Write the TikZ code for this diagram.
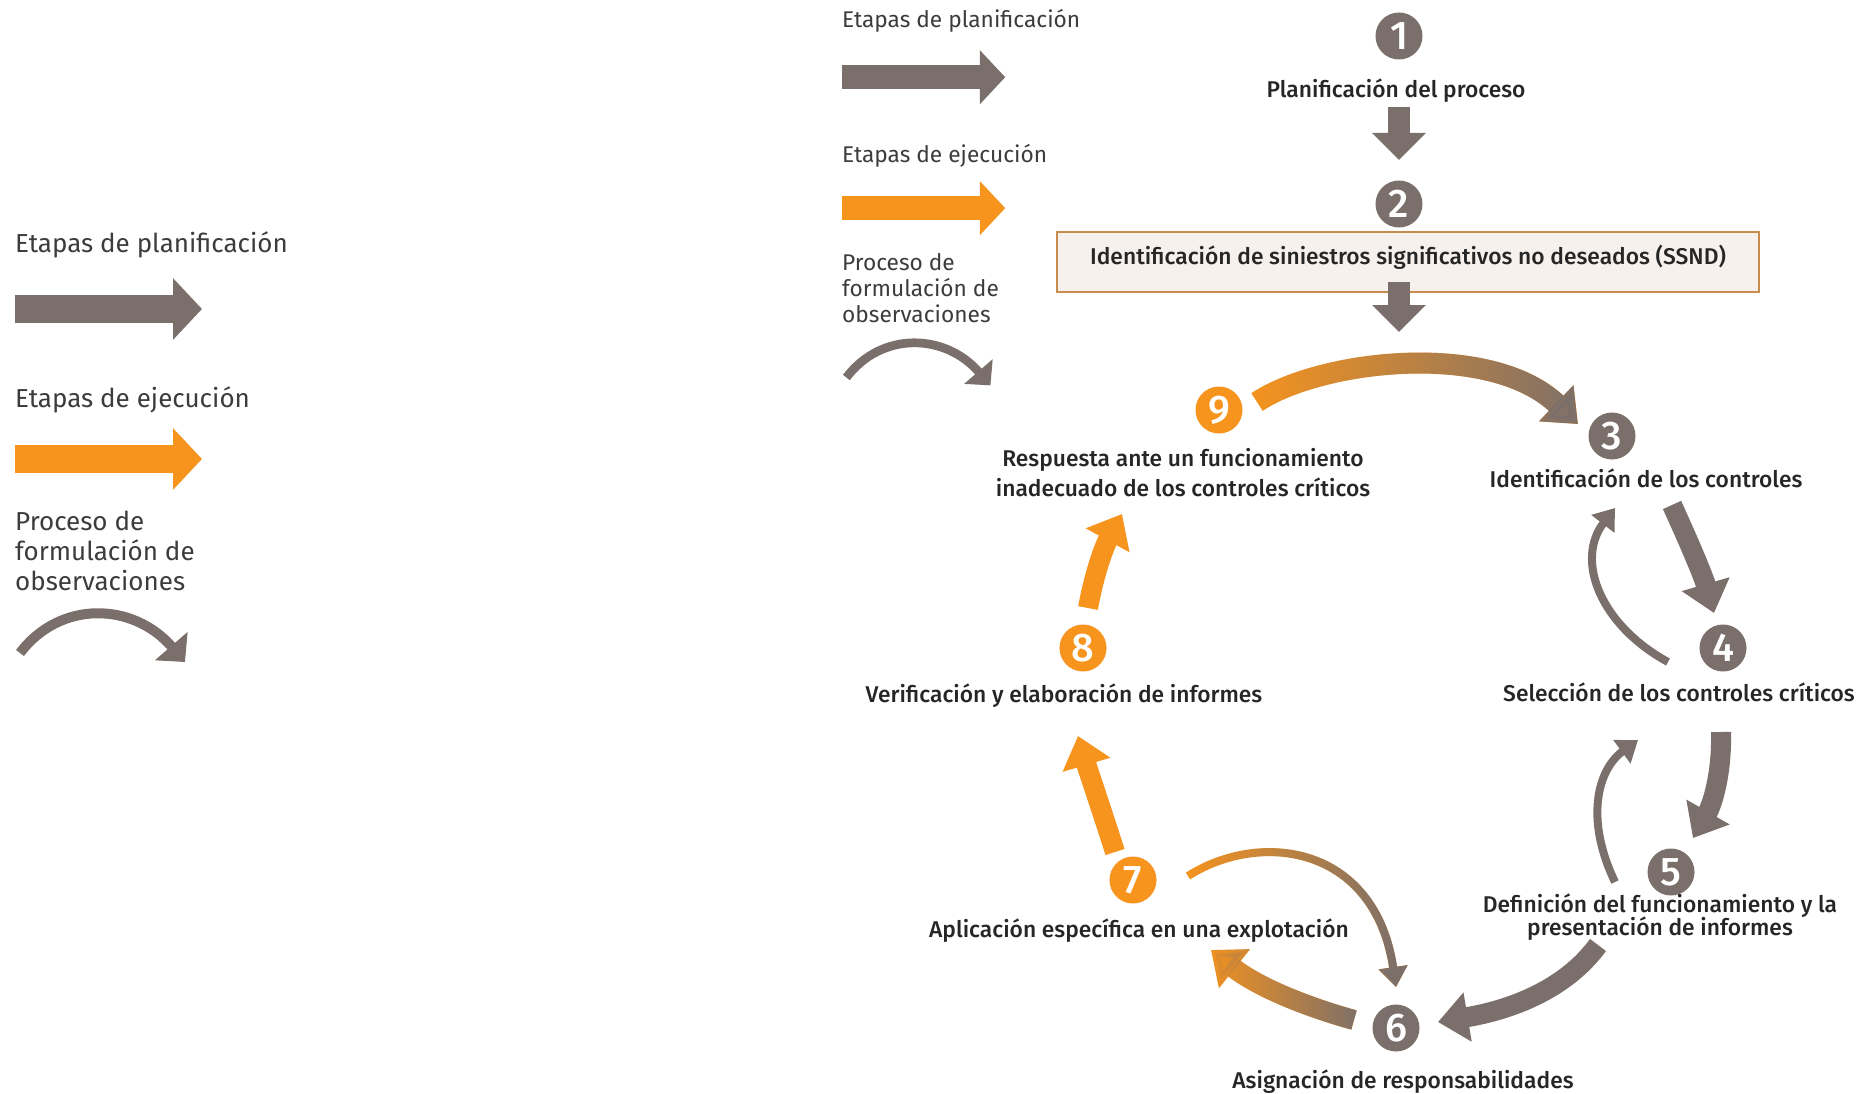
\documentclass[tikz,border=0pt]{standalone}
\usepackage{fontspec}
\setmainfont{Fira Sans}[BoldFont={Fira Sans Medium}]
\usetikzlibrary{arrows.meta,fadings}

\definecolor{stone}{HTML}{7B6F6B}
\definecolor{amber}{HTML}{F7941D}
\definecolor{boxfill}{HTML}{F6F1EC}
\definecolor{boxline}{HTML}{C98B4E}
\definecolor{ink}{HTML}{262626}

\tikzfading[name=fade in right, left color=transparent!100, right color=transparent!0]

\tikzset{
  num/.style={circle, inner sep=0pt, minimum size=47pt, text=white,
    font=\fontsize{40}{40}\selectfont\bfseries},
  gnum/.style={num, fill=stone},
  onum/.style={num, fill=amber},
  lbl/.style={font=\fontsize{22.8}{30}\selectfont\bfseries,
    text=ink, inner sep=0pt, align=center},
  bigarrow/.style={line width=20pt, -{Triangle[width=48pt,length=30pt]}},
  smallarrow/.style={line width=8pt, -{Triangle[width=28pt,length=20pt]}},
  legtext/.style={font=\fontsize{26}{30}\selectfont, text=ink!90, inner sep=0pt},
}

% legend block: #1 name prefix, #2 scale of the line work
% (a multi-line node's base anchor sits on its last line)
\newcommand\keyblock[2]{%
  \node[legtext, anchor=base west] (#1plan) at (0,20) {Etapas de planificación};
  \coordinate (#1pa) at (0,77); \coordinate (#1pb) at (187,77);
  \draw[stone, line width=#2*28pt, -{Triangle[width=60pt,length=29pt,scale=#2]}] (#1pa) -- (#1pb);
  \node[legtext, anchor=base west] (#1exec) at (0,175) {Etapas de ejecución};
  \coordinate (#1ea) at (0,227); \coordinate (#1eb) at (187,227);
  \draw[amber, line width=#2*28pt, -{Triangle[width=60pt,length=29pt,scale=#2]}] (#1ea) -- (#1eb);
  \node[legtext, anchor=base west, align=left] (#1obs) at (0,358) {Proceso de\\formulación de\\observaciones};
  \coordinate (#1oa) at (5,421); \coordinate (#1ob) at (170,430);
  \draw[stone, line width=#2*10pt, -{Triangle[width=42pt,length=21pt,scale=#2]}]
    (#1oa) .. controls +(40,-53) and +(-52,-60) .. (#1ob);
}

\begin{document}
% keep the baseline distance of stacked lines even when they sit close
\lineskiplimit=-50pt
\begin{tikzpicture}[x=1pt,y=-1pt]
\fill[white] (0,0) rectangle (1862,1094);
\useasboundingbox (0,0) rectangle (1862,1094);

% legends
\begin{scope}[shift={(15,232)}]
  \keyblock{L}{1}
\end{scope}
\begin{scope}[shift={(842,10)}, scale=0.873, transform shape]
  \keyblock{R}{0.873}
\end{scope}

% planning stages
\node[gnum] (c1) at (1399,36) {1};
\node[lbl, anchor=base] (l1) at (1396,98) {Planificación del proceso};
\node[gnum] (c2) at (1399,204) {2};
\coordinate (a12s) at (1399,107); \coordinate (a12e) at (1399,160);
\draw[stone, line width=22pt, -{Triangle[width=52pt,length=27pt]}] (a12s) -- (a12e);

\node[draw=boxline, fill=boxfill, line width=2.5pt, minimum width=702pt, minimum height=60pt,
      inner sep=0pt, text height=15pt, text depth=10pt,
      font=\fontsize{22.8}{30}\selectfont\bfseries, text=ink] (box) at (1408,262)
      {Identificación de siniestros significativos no deseados (SSND)};
\coordinate (a2s) at (1399,282); \coordinate (a2e) at (1399,332);
\draw[stone, line width=22pt, -{Triangle[width=52pt,length=27pt]}] (a2s) -- (a2e);

% cycle stages
\node[gnum] (c3) at (1612,436) {3};
\node[gnum] (c4) at (1723,648) {4};
\node[gnum] (c5) at (1671,872) {5};
\node[gnum] (c6) at (1396,1028) {6};
\node[onum] (c7) at (1133,880) {7};
\node[onum] (c8) at (1083,648) {8};
\node[onum] (c9) at (1219,410) {9};

\node[lbl, anchor=base] (l3) at (1646,487) {Identificación de los controles};
\node[lbl, anchor=base] (l4) at (1679,701) {Selección de los controles críticos};
\node[lbl, anchor=base, font=\fontsize{22.8}{22.5}\selectfont\bfseries] (l5) at (1660,935)
  {Definición del funcionamiento y la\\presentación de informes};
\node[lbl, anchor=base] (l6) at (1403,1088) {Asignación de responsabilidades};
\node[lbl, anchor=base] (l7) at (1139,937) {Aplicación específica en una explotación};
\node[lbl, anchor=base] (l8) at (1064,702) {Verificación y elaboración de informes};
\node[lbl, anchor=base] (l9) at (1183,496)
  {Respuesta ante un funcionamiento\\inadecuado de los controles críticos};

% connector end points
\coordinate (a93s) at (1257,402); \coordinate (a93e) at (1578,424);
\coordinate (a34s) at (1672,505); \coordinate (a34e) at (1714,613);
\coordinate (a43s) at (1668,662); \coordinate (a43e) at (1615,508);
\coordinate (a45s) at (1721,732); \coordinate (a45e) at (1693,838);
\coordinate (a54s) at (1615,882); \coordinate (a54e) at (1638,740);
\coordinate (a56s) at (1598,945); \coordinate (a56e) at (1438,1022);
\coordinate (a67s) at (1354,1020); \coordinate (a67e) at (1211,950);
\coordinate (a76s) at (1188,876); \coordinate (a76e) at (1396,987);
\coordinate (a78s) at (1115,852); \coordinate (a78e) at (1078,736);
\coordinate (a89s) at (1088,608); \coordinate (a89e) at (1122,514);

% 9 -> 3, orange fading into grey
\draw[amber, bigarrow, line width=21pt] (a93s) .. controls +(63,-42) and +(-88,-84) .. (a93e);
\draw[stone, bigarrow, line width=21pt, path fading=fade in right, fit fading=true]
  (a93s) .. controls +(63,-42) and +(-88,-84) .. (a93e);

% controls loop
\draw[stone, bigarrow] (a34s) .. controls +(16,35) and +(-11,-38) .. (a34e);
\draw[stone, smallarrow] (a43s) .. controls +(-68,-37) and +(-40,52) .. (a43e);
\draw[stone, bigarrow] (a45s) .. controls +(1,43) and +(19,-33) .. (a45e);
\draw[stone, smallarrow] (a54s) .. controls +(-30,-62) and +(-41,30) .. (a54e);
\draw[stone, bigarrow] (a56s) .. controls +(-33,45) and +(72,-12) .. (a56e);

% 6 -> 7, grey turning orange
\draw[amber, bigarrow] (a67s) .. controls +(-54,-15) and +(44,35) .. (a67e);
\draw[stone, bigarrow, path fading=fade in right, fit fading=true]
  (a67s) .. controls +(-54,-15) and +(44,35) .. (a67e);

% 7 -> 6, orange turning grey
\draw[amber, smallarrow] (a76s) .. controls +(72,-46) and +(-21,-142) .. (a76e);
\draw[stone, smallarrow, path fading=fade in right, fit fading=true]
  (a76s) .. controls +(72,-46) and +(-21,-142) .. (a76e);

% execution stages
\draw[amber, bigarrow] (a78s) .. controls +(-15,-47) and +(10,34) .. (a78e);
\draw[amber, bigarrow] (a89s) .. controls +(7,-38) and +(-17,31) .. (a89e);

\end{tikzpicture}
\end{document}
